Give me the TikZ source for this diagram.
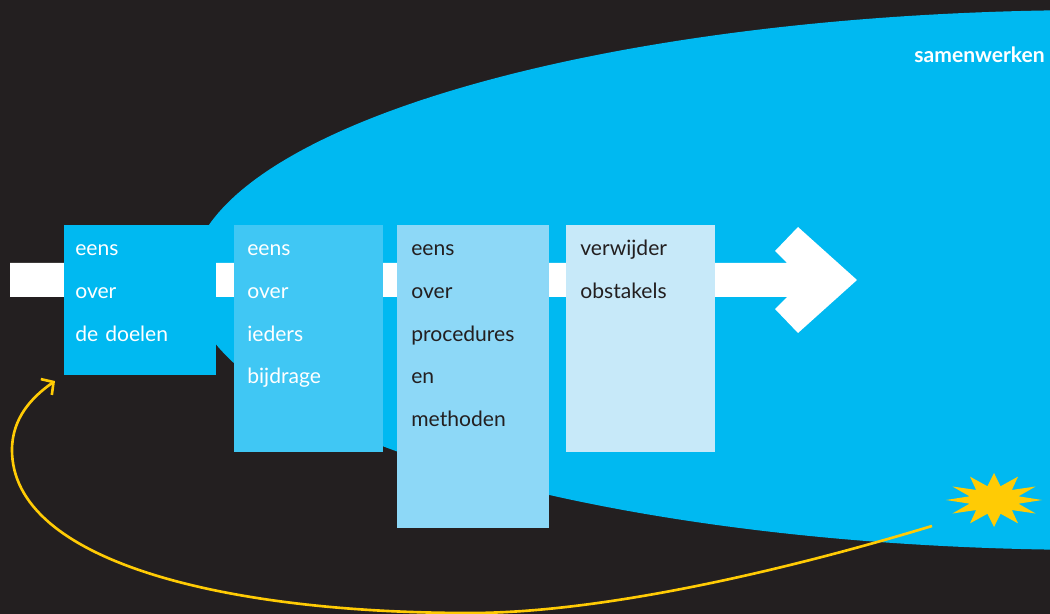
\documentclass[tikz,border=0pt]{standalone}
\usepackage{fontspec}
\setmainfont{Lato}
\usetikzlibrary{arrows.meta,shapes.geometric}

\definecolor{donker}{HTML}{231F20}
\definecolor{cyaan}{HTML}{00B9F1}
\definecolor{blauw2}{HTML}{40C7F4}
\definecolor{blauw3}{HTML}{8DD8F7}
\definecolor{blauw4}{HTML}{C7E9F9}
\definecolor{geel}{HTML}{FFCB05}

\tikzstyle{blok} = [rectangle, anchor=north west, inner sep=0pt]
\tikzstyle{tekst} = [anchor=base west, align=left, text width=2.7cm, inner sep=0pt,
                     font=\fontsize{12}{24.2}\selectfont]

\begin{document}
\begin{tikzpicture}[x=0.02cm, y=-0.02cm]
            \useasboundingbox (0,0) rectangle (1050,614);
            \fill[donker] (0,0) rectangle (1050,614);
            \fill[cyaan] (1100,280) ellipse [x radius=910, y radius=270];

            % witte pijl
            \fill[white] (10,263) -- (787,263) -- (775,251) -- (798,227) -- (857,280)
                -- (798,333) -- (775,309) -- (787,297) -- (10,297) -- cycle;

            \node[blok, fill=cyaan,  minimum width=3.04cm, minimum height=3cm]    (1) at ( 64, 225) {};
            \node[blok, fill=blauw2, minimum width=2.98cm, minimum height=4.54cm] (2) at (234, 225) {};
            \node[blok, fill=blauw3, minimum width=3.04cm, minimum height=6.06cm] (3) at (397, 225) {};
            \node[blok, fill=blauw4, minimum width=2.98cm, minimum height=4.54cm] (4) at (566, 225) {};

            \node[tekst, white]  (t1) at ( 75, 256) {eens\\over\\de doelen};
            \node[tekst, white]  (t2) at (247, 256) {eens\\over\\ieders\\bijdrage};
            \node[tekst, donker] (t3) at (411, 256) {eens\\over\\procedures\\en\\methoden};
            \node[tekst, donker] (t4) at (580, 256) {verwijder\\obstakels};

            \node[anchor=base west, inner sep=0pt, white, font=\fontsize{12}{14}\selectfont\bfseries]
                (samen) at (914, 63) {samenwerken};

            \node[star, star points=12, star point ratio=1.9, fill=geel, inner sep=0pt,
                  minimum size=1.08cm, xscale=1.78, transform shape] (ster) at (994, 500) {};

            \coordinate (s) at (932, 526);
            \coordinate (e) at ( 55, 381);
            \draw[geel, line width=1.5pt, -{Straight Barb[length=5pt, width=11pt]}]
                (s) .. controls (780, 572) and (600, 613) .. (470, 613)
                    .. controls (220, 613) and ( 12, 560) .. ( 12, 450)
                    .. controls ( 12, 418) and ( 32, 397) .. (e);
        \end{tikzpicture}
\end{document}
